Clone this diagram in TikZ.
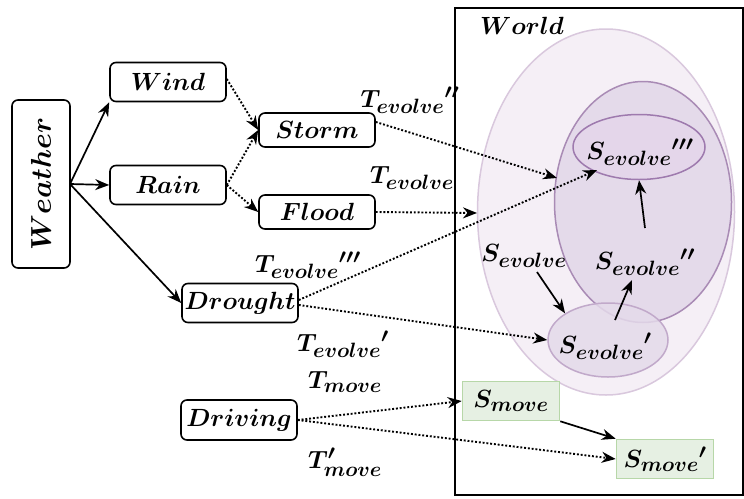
\documentclass[tikz,border=0pt]{standalone}
\usetikzlibrary{arrows.meta,shapes.geometric}
\DeclareMathSizes{25}{25}{20}{16}
\definecolor{bigf}{RGB}{245,239,246}
\definecolor{bigd}{RGB}{217,200,221}
\definecolor{midf}{RGB}{228,218,234}
\definecolor{midd}{RGB}{169,139,181}
\definecolor{smf}{RGB}{228,214,234}
\definecolor{smd}{RGB}{158,122,174}
\definecolor{gfill}{RGB}{230,240,227}
\definecolor{gdraw}{RGB}{183,215,168}
\begin{document}
\begin{tikzpicture}[x=1pt,y=-1pt,
  every node/.style={font=\fontsize{25}{30}\selectfont\boldmath},
  rbox/.style={draw,line width=1.6pt,rounded corners=6pt,minimum width=116pt,minimum height=39pt,inner sep=0pt},
  gbox/.style={draw=gdraw,fill=gfill,line width=1.6pt,minimum width=97pt,minimum height=39pt,inner sep=0pt},
  sarr/.style={-{Stealth[length=14pt,width=11pt]},line width=1.7pt},
  darr/.style={-{Stealth[length=14pt,width=11pt]},line width=1.9pt,dash pattern=on 1.9pt off 1.9pt},
  lbl/.style={inner sep=0pt}]
\useasboundingbox (0,0) rectangle (744,498);
% world frame
\draw[line width=1.7pt] (455,8) rectangle (743,495);
\node[lbl] (world) at (522,26) {$World$};
% ellipses
\node[ellipse,draw=bigd,fill=bigf,line width=1.5pt,minimum width=257pt,minimum height=366pt,inner sep=0pt] (big) at (606,212) {};
\node[ellipse,draw=midd,fill=midf,line width=1.5pt,minimum width=177pt,minimum height=241pt,inner sep=0pt] (mid) at (643,202) {};
\node[ellipse,draw=smd,fill=smf,line width=1.5pt,minimum width=132pt,minimum height=65pt,inner sep=0pt] (e3) at (639,147) {};
\node[ellipse,draw=bigd!60!smd,fill=midf,fill opacity=0.85,line width=1.5pt,minimum width=120pt,minimum height=74pt,inner sep=0pt] (e1) at (608,340) {};
\node[lbl] (t3) at (640,152) {${S_{evolve}}'''$};
\node[lbl] (t2) at (645,262) {${S_{evolve}}''$};
\node[lbl] (t1) at (605,346) {${S_{evolve}}'$};
\node[lbl] (t0) at (524,256) {$S_{evolve}$};
% green boxes
\node[gbox] (sm) at (511,401) {$S_{move}$};
\node[gbox] (sm2) at (665,459) {${S_{move}}'$};
% left boxes
\node[rbox,minimum width=58pt,minimum height=168pt] (weather) at (41,184) {\rotatebox{90}{\scalebox{1.15}{$Weather$}}};
\node[rbox] (wind) at (168,82) {$Wind$};
\node[rbox] (rain) at (168,185) {$Rain$};
\node[rbox,minimum height=34pt] (storm) at (317,130) {$Storm$};
\node[rbox,minimum height=34pt] (flood) at (317,212) {$Flood$};
\node[rbox] (drought) at (240,303) {$Drought$};
\node[rbox,minimum height=40pt] (driving) at (239,420) {$Driving$};
% T labels
\node[lbl] (te2) at (410,100) {${T_{evolve}}''$};
\node[lbl] (te0) at (412,178) {$T_{evolve}$};
\node[lbl] (te3) at (308,265) {${T_{evolve}}'''$};
\node[lbl] (te1) at (343,344) {${T_{evolve}}'$};
\node[lbl] (tm) at (345,382) {$T_{move}$};
\node[lbl] (tm2) at (345,462) {$T'_{move}$};
% coordinates
\coordinate (wo) at (70,184);
\coordinate (a3) at (597,170);
\coordinate (a2) at (557,178);
\coordinate (a0) at (477,213);
\coordinate (se) at (537,272);
\coordinate (e1t) at (615,320);
\coordinate (e2b) at (632,280);
\coordinate (e2t) at (645,228);
% solid arrows
\draw[sarr] (wo) -- (wind.south west);
\draw[sarr] (wo) -- (rain.west);
\draw[sarr] (wo) -- (drought.west);
\draw[sarr] (sm.south east) -- (sm2.north west);
\draw[sarr] (se) -- (e1.north west);
\draw[sarr] (e1t) -- (e2b);
\draw[sarr] (e2t) -- (e3.south);
% dotted arrows
\draw[darr] ([yshift=3pt]wind.east) -- (storm.west);
\draw[darr] (rain.east) -- (storm.west);
\draw[darr] (rain.east) -- (flood.west);
\draw[darr] ([yshift=8pt]storm.east) -- (a2);
\draw[darr] (flood.east) -- (a0);
\draw[darr] ([yshift=3pt]drought.east) -- (a3);
\draw[darr] ([yshift=-2pt]drought.east) -- (e1.west);
\draw[darr] (driving.east) -- (sm.west);
\draw[darr] (driving.east) -- (sm2.west);
\end{tikzpicture}
\end{document}
